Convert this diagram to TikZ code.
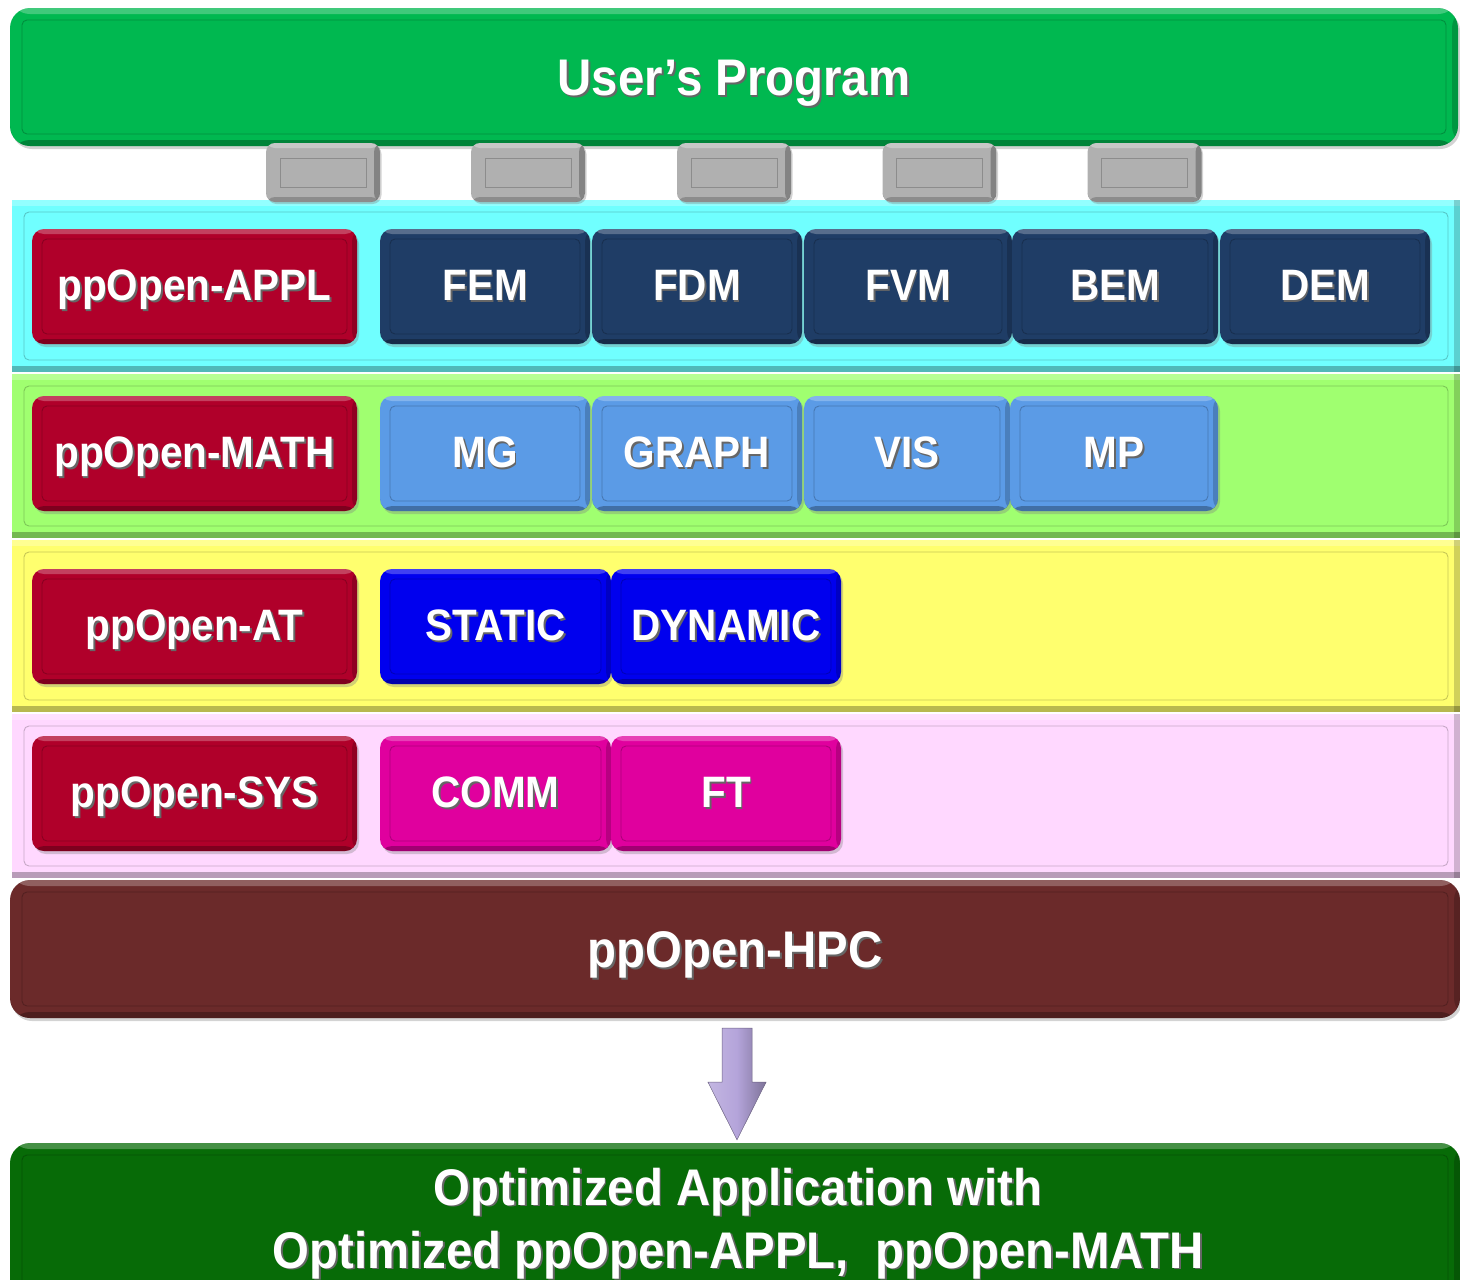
\documentclass[tikz,border=0pt]{standalone}
\usepackage{fontspec}
\setmainfont{Liberation Sans}
\newfontfamily\cf[FakeStretch=0.92]{Liberation Sans}
\usetikzlibrary{shadows,calc}
\definecolor{cuser}{HTML}{00B850}
\definecolor{ccyan}{HTML}{70FFFF}
\definecolor{clgreen}{HTML}{A0FF70}
\definecolor{cyellow}{HTML}{FFFF6E}
\definecolor{cpink}{HTML}{FFD8FF}
\definecolor{chpc}{HTML}{6B2A2A}
\definecolor{copt}{HTML}{076B07}
\definecolor{cred}{HTML}{B0002A}
\definecolor{cnavy}{HTML}{1F3D66}
\definecolor{clblue}{HTML}{5B9BE6}
\definecolor{cblue}{HTML}{0000EE}
\definecolor{cmag}{HTML}{E0009E}
\definecolor{cgrey}{HTML}{B0B0B0}
\definecolor{carrow}{HTML}{B4A4DA}
\newcommand\tsh[1]{\makebox[0pt][l]{\hspace{1.8pt}\raisebox{-1.8pt}{\textcolor{black!60}{#1}}}#1}
\begin{document}
\begin{tikzpicture}[x=1pt,y=-1pt,
  bevel/.style={path picture={
    \fill[white,opacity=0.25] (path picture bounding box.north west) rectangle ([yshift=-#1]path picture bounding box.north east);
    \fill[black,opacity=0.28] ([yshift=#1]path picture bounding box.south west) rectangle (path picture bounding box.south east);
    \fill[black,opacity=0.18] ([xshift=-#1]path picture bounding box.north east) rectangle (path picture bounding box.south east);
    \draw[black,opacity=0.22,line width=0.9pt,rounded corners=5pt] ([shift={(2*#1,-2*#1)}]path picture bounding box.north west) rectangle ([shift={(-2*#1,2*#1)}]path picture bounding box.south east);
  }},
  btn/.style={bevel=5pt, rounded corners=12pt, minimum height=115pt, inner sep=0pt, text=white,
    font=\cf\fontsize{44}{52}\selectfont\bfseries, text height=31.5pt, text depth=3pt,
    drop shadow={shadow xshift=2pt,shadow yshift=-3pt,opacity=0.35}},
  layer/.style={bevel=6pt, minimum width=1448pt, inner sep=0pt},
  bigbox/.style={bevel=6pt, rounded corners=20pt, inner sep=0pt, text=white,
    font=\cf\fontsize{51.5}{60}\selectfont\bfseries, text height=36.9pt, text depth=0pt,
    drop shadow={shadow xshift=2pt,shadow yshift=-3pt,opacity=0.35}},
  plug/.style={fill=cgrey, rounded corners=9pt, minimum width=114pt, minimum height=59pt, inner sep=0pt,
    drop shadow={shadow xshift=1.5pt,shadow yshift=-2pt,opacity=0.35},
    path picture={
      \fill[white,opacity=0.3] (path picture bounding box.north west) rectangle ([yshift=-5pt]path picture bounding box.north east);
      \fill[black,opacity=0.25] ([xshift=-6pt]path picture bounding box.north east) rectangle (path picture bounding box.south east);
      \fill[black,opacity=0.2] ([yshift=5pt]path picture bounding box.south west) rectangle (path picture bounding box.south east);
      \draw[black!45,line width=0.8pt,sharp corners] ([shift={(14pt,-15pt)}]path picture bounding box.north west) rectangle ([shift={(-14pt,15pt)}]path picture bounding box.south east);
    }},
  optlbl/.style={text=white, font=\cf\fontsize{51.5}{60}\selectfont\bfseries, anchor=base, inner sep=0pt}
]
\useasboundingbox (0,0) rectangle (1460,1280);
\clip (0,0) rectangle (1460,1280);

% top program box
\node[bigbox, fill=cuser, minimum width=1448pt, minimum height=138pt] (user) at (734,77) {\tsh{User’s Program}};

% layers
\node[layer, fill=ccyan,   minimum height=172pt] (l1) at (736,286) {};
\node[layer, fill=clgreen, minimum height=164pt] (l2) at (736,456) {};
\node[layer, fill=cyellow, minimum height=172pt] (l3) at (736,626) {};
\node[layer, fill=cpink,   minimum height=164pt] (l4) at (736,796) {};

% plugs
\foreach \n/\px in {p1/323, p2/528, p3/734, p4/939.5, p5/1144.5}
  \node[plug] (\n) at (\px,172.5) {};

% row 1
\node[btn, fill=cred,  minimum width=325pt] (appl) at (194.5,286.5) {\tsh{ppOpen-APPL}};
\node[btn, fill=cnavy, minimum width=210pt] (fem) at (485,286.5) {\tsh{FEM}};
\node[btn, fill=cnavy, minimum width=210pt] (fdm) at (697,286.5) {\tsh{FDM}};
\node[btn, fill=cnavy, minimum width=208pt] (fvm) at (908,286.5) {\tsh{FVM}};
\node[btn, fill=cnavy, minimum width=206pt] (bem) at (1115,286.5) {\tsh{BEM}};
\node[btn, fill=cnavy, minimum width=210pt] (dem) at (1325,286.5) {\tsh{DEM}};

% row 2
\node[btn, fill=cred,   minimum width=325pt] (math) at (194.5,453.5) {\tsh{ppOpen-MATH}};
\node[btn, fill=clblue, minimum width=210pt] (mg) at (485,453.5) {\tsh{MG}};
\node[btn, fill=clblue, minimum width=210pt] (graph) at (697,453.5) {\tsh{GRAPH}};
\node[btn, fill=clblue, minimum width=206pt] (vis) at (907,453.5) {\tsh{VIS}};
\node[btn, fill=clblue, minimum width=208pt] (mp) at (1114,453.5) {\tsh{MP}};

% row 3
\node[btn, fill=cred,  minimum width=325pt] (at) at (194.5,626.5) {\tsh{ppOpen-AT}};
\node[btn, fill=cblue, minimum width=231pt] (static) at (495.5,626.5) {\tsh{STATIC}};
\node[btn, fill=cblue, minimum width=230pt] (dynamic) at (726,626.5) {\tsh{DYNAMIC}};

% row 4
\node[btn, fill=cred, minimum width=325pt] (sys) at (194.5,793.5) {\tsh{ppOpen-SYS}};
\node[btn, fill=cmag, minimum width=231pt] (comm) at (495.5,793.5) {\tsh{COMM}};
\node[btn, fill=cmag, minimum width=230pt] (ft) at (726,793.5) {\tsh{FT}};

% HPC
\node[bigbox, fill=chpc, minimum width=1450pt, minimum height=138pt] (hpc) at (735,949) {\tsh{ppOpen-HPC}};

% bottom box
\node[bigbox, fill=copt, minimum width=1450pt, minimum height=170pt] (opt) at (735,1228) {};
\node[optlbl] (opt1) at (738,1205) {\tsh{Optimized Application with}};
\node[optlbl] (opt2) at (738,1268) {\tsh{Optimized ppOpen-APPL,\ \ ppOpen-MATH}};

% arrow
\coordinate (atop) at ($(hpc.south)+(2,10)$);
\coordinate (atip) at ($(opt.north)+(2,-3)$);
\shade[left color=carrow!80!white, right color=carrow!70!black, middle color=carrow, draw=carrow!60!black, line width=0.5pt]
  ($(atop)+(-15,0)$) -- ($(atop)+(15,0)$) -- ($(atop)+(15,54)$) -- ($(atop)+(29,54)$) -- (atip)
  -- ($(atop)+(-29,54)$) -- ($(atop)+(-15,54)$) -- cycle;
\end{tikzpicture}
\end{document}
